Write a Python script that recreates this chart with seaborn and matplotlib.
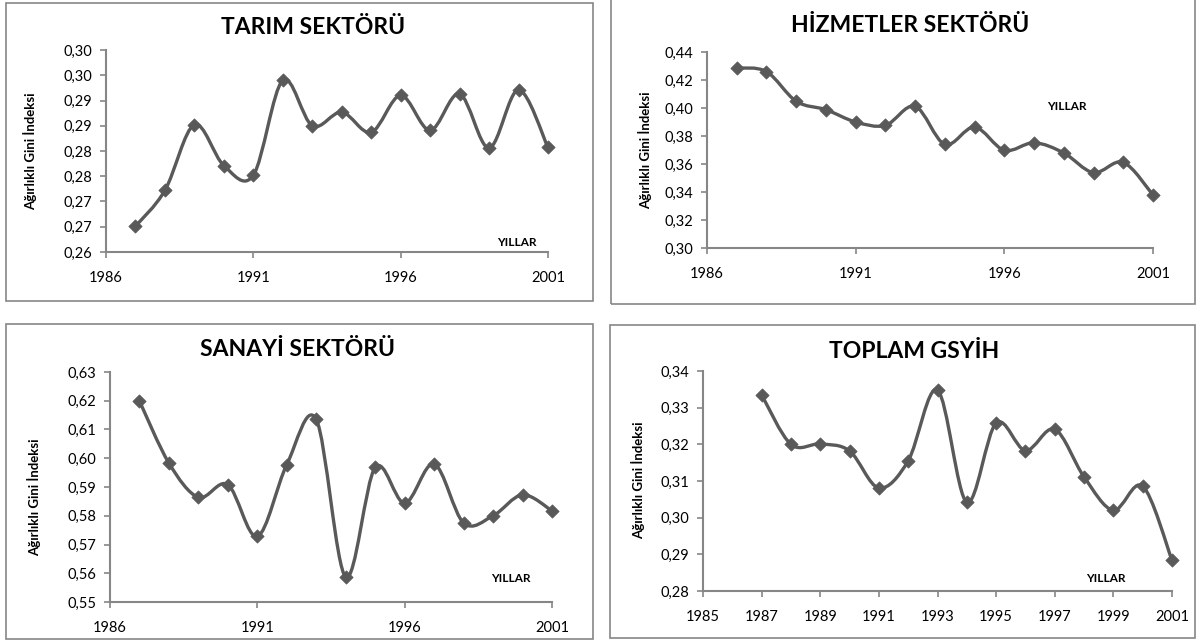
import numpy as np
import pandas as pd
import matplotlib
matplotlib.use("Agg")
import matplotlib.pyplot as plt
from matplotlib.path import Path
from matplotlib.patches import PathPatch, Rectangle
import seaborn as sns

# ---------------- data ----------------
years = [1987, 1988, 1989, 1990, 1991, 1992, 1993, 1994, 1995, 1996, 1997, 1998, 1999, 2000, 2001]

tarim = [0.2651, 0.2722, 0.2852, 0.2771, 0.2752, 0.2940, 0.2850, 0.2877, 0.2837,
         0.2910, 0.2841, 0.2913, 0.2806, 0.2921, 0.2807]
hizmetler = [0.4286, 0.4260, 0.4048, 0.3988, 0.3900, 0.3876, 0.4012, 0.3740, 0.3864,
             0.3698, 0.3752, 0.3679, 0.3538, 0.3612, 0.3379]
sanayi = [0.6199, 0.5983, 0.5864, 0.5908, 0.5728, 0.5978, 0.6135, 0.5587, 0.5968,
          0.5844, 0.5980, 0.5775, 0.5800, 0.5873, 0.5817]
toplam = [0.3335, 0.3200, 0.3201, 0.3182, 0.3081, 0.3155, 0.3348, 0.3042, 0.3258,
          0.3183, 0.3241, 0.3111, 0.3020, 0.3086, 0.2884]

titles = ["TARIM SEKTÖRÜ", "HİZMETLER SEKTÖRÜ", "SANAYİ SEKTÖRÜ", "TOPLAM GSYİH"]
ylabel_text = "Ağırlıklı Gini İndeksi"
xlabel_text = "YILLAR"

tarim_yticks = [0.26, 0.265, 0.27, 0.275, 0.28, 0.285, 0.29, 0.295, 0.30]
tarim_ylabels = ["0,26", "0,27", "0,27", "0,28", "0,28", "0,29", "0,29", "0,30", "0,30"]
hizmetler_yticks = [0.30, 0.32, 0.34, 0.36, 0.38, 0.40, 0.42, 0.44]
hizmetler_ylabels = ["0,30", "0,32", "0,34", "0,36", "0,38", "0,40", "0,42", "0,44"]
sanayi_yticks = [0.55, 0.56, 0.57, 0.58, 0.59, 0.60, 0.61, 0.62, 0.63]
sanayi_ylabels = ["0,55", "0,56", "0,57", "0,58", "0,59", "0,60", "0,61", "0,62", "0,63"]
toplam_yticks = [0.28, 0.29, 0.30, 0.31, 0.32, 0.33, 0.34]
toplam_ylabels = ["0,28", "0,29", "0,30", "0,31", "0,32", "0,33", "0,34"]

xticks_5 = [1986, 1991, 1996, 2001]
xticks_2 = [1985, 1987, 1989, 1991, 1993, 1995, 1997, 1999, 2001]

# ---------------- style ----------------
sns.set_style("white")
plt.rcParams['font.family'] = ['Lato', 'DejaVu Sans']

W, H = 1196, 643
fig = plt.figure(figsize=(W / 100, H / 100), dpi=100)
fig.patch.set_facecolor("white")

LINE = "#595959"
AXC = "#868686"


def fx(px):
    return px / W


def fy(py):
    return 1 - py / H


def smooth_path(xs, ys):
    pts = np.column_stack([xs, ys]).astype(float)
    n = len(pts)
    verts = [tuple(pts[0])]
    codes = [Path.MOVETO]
    for i in range(n - 1):
        p0 = pts[i - 1] if i > 0 else pts[i]
        p1 = pts[i]
        p2 = pts[i + 1]
        p3 = pts[i + 2] if i + 2 < n else pts[i + 1]
        c1 = p1 + (p2 - p0) / 6.0
        c2 = p2 - (p3 - p1) / 6.0
        verts += [tuple(c1), tuple(c2), tuple(p2)]
        codes += [Path.CURVE4] * 3
    return Path(verts, codes)


panels = [
    dict(vals=tarim, rect=(106, 50, 548, 252), xlim=(1986, 2001), ylim=(0.26, 0.30),
         yt=tarim_yticks, yl=tarim_ylabels, xt=xticks_5, title=(313, 28),
         ylab=(30, 151), yillar=(0.93, 0.045), box=(6, 3, 593, 301)),
    dict(vals=hizmetler, rect=(707, 52, 1153, 248), xlim=(1986, 2001), ylim=(0.30, 0.44),
         yt=hizmetler_yticks, yl=hizmetler_ylabels, xt=xticks_5, title=(910, 25),
         ylab=(645, 150), yillar=(0.807, 0.72), box=(611, -5, 1195, 304)),
    dict(vals=sanayi, rect=(110, 372, 552, 602), xlim=(1986, 2001), ylim=(0.55, 0.63),
         yt=sanayi_yticks, yl=sanayi_ylabels, xt=xticks_5, title=(297, 350),
         ylab=(34, 497), yillar=(0.907, 0.104), box=(6, 324, 593, 639)),
    dict(vals=toplam, rect=(703, 371, 1172, 591), xlim=(1985, 2001), ylim=(0.28, 0.34),
         yt=toplam_yticks, yl=toplam_ylabels, xt=xticks_2, title=(914, 352),
         ylab=(638, 480), yillar=(0.859, 0.055), box=(610, 325, 1195, 638)),
]

for i, p in enumerate(panels):
    bx0, by0, bx1, by1 = p["box"]
    fig.patches.append(Rectangle((fx(bx0), fy(by1)), fx(bx1 - bx0), (by1 - by0) / H,
                                 transform=fig.transFigure, fill=False,
                                 edgecolor=AXC, linewidth=1.2, zorder=0))
    x0, y0, x1, y1 = p["rect"]
    ax = fig.add_axes([fx(x0), fy(y1), fx(x1 - x0), (y1 - y0) / H])
    ax.set_facecolor("none")
    df = pd.DataFrame({"year": years, "gini": p["vals"]})
    ax.add_patch(PathPatch(smooth_path(df["year"], df["gini"]), facecolor="none",
                           edgecolor=LINE, linewidth=2.4, capstyle="round",
                           joinstyle="round", clip_on=False, zorder=2))
    sns.scatterplot(data=df, x="year", y="gini", ax=ax, marker="D", s=46,
                    color=LINE, edgecolor=LINE, linewidth=0.5, zorder=3,
                    clip_on=False, legend=False)
    ax.set_xlim(*p["xlim"])
    ax.set_ylim(*p["ylim"])
    ax.set_yticks(p["yt"], p["yl"])
    ax.set_xticks(p["xt"], [str(v) for v in p["xt"]])
    ax.set_xlabel("")
    ax.set_ylabel("")
    for s in ["top", "right"]:
        ax.spines[s].set_visible(False)
    for s in ["left", "bottom"]:
        ax.spines[s].set_color(AXC)
        ax.spines[s].set_linewidth(1.5)
    ax.tick_params(axis="both", direction="out", length=4, width=1.2, color=AXC,
                   labelsize=10.5, labelcolor="black", left=True, bottom=True)
    ax.tick_params(axis="y", pad=6)
    ax.tick_params(axis="x", pad=10)
    ax.text(p["yillar"][0], p["yillar"][1], xlabel_text, transform=ax.transAxes,
            ha="center", va="center", fontsize=8.5, fontweight="bold", color="black")
    fig.text(fx(p["title"][0]), fy(p["title"][1]), titles[i], ha="center", va="center",
             fontsize=16.5, fontweight="bold", color="black")
    fig.text(fx(p["ylab"][0]), fy(p["ylab"][1]), ylabel_text, rotation=90,
             ha="center", va="center", fontsize=9.5, fontweight="bold", color="black")

fig.savefig("out.png", dpi=100)
